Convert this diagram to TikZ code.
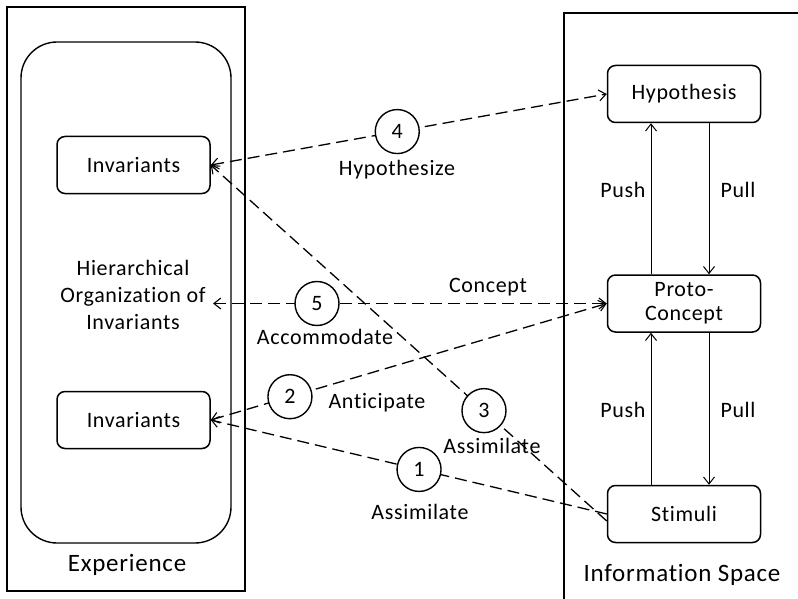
\documentclass[tikz,border=0pt]{standalone}
\usepackage{fontspec}
\setmainfont{Carlito}[Ligatures=NoCommon,LetterSpace=3]
\usetikzlibrary{arrows.meta,calc}
\begin{document}
\begin{tikzpicture}[x=1pt,y=-1pt,
  font=\fontsize{22}{26}\selectfont,
  box/.style={draw,line width=1.5pt,rounded corners=8pt,minimum width=153pt,minimum height=57pt,align=center,inner sep=0pt},
  num/.style={draw,circle,line width=1.4pt,fill=white,minimum size=44pt,inner sep=0pt},
  dline/.style={line width=1.3pt,dash pattern=on 12pt off 6pt},
  tip/.style={arrows={-Straight Barb[length=7pt,width=11pt,line width=1.1pt]}},
  both/.style={arrows={Straight Barb[length=7pt,width=11pt,line width=1.1pt]-Straight Barb[length=7pt,width=11pt,line width=1.1pt]}},
  flow/.style={line width=1pt,-{Straight Barb[length=7pt,width=11pt,line width=1pt]}},
  lbl/.style={inner sep=0pt},
  big/.style={inner sep=0pt,font=\fontsize{25}{30}\selectfont}]
\useasboundingbox (0,0) rectangle (798,599);
\clip (0,0) rectangle (798,599);
\fill[white] (0,0) rectangle (798,599);

% frames: Experience (left) and Information Space (right, running off the page)
\draw[line width=1.3pt] (7,7) rectangle (245,591);
\draw[line width=2.6pt] (7,7) -- (245,7);
\draw[line width=1.3pt] (564,13) rectangle (820,640);
\draw[line width=2.6pt] (564,13) -- (820,13);
\draw[line width=1.4pt,rounded corners=36pt] (21,42) rectangle (231,543);

% boxes
\node[box] (inv1) at (133.5,165) {Invariants};
\node[box] (inv2) at (133.5,420) {Invariants};
\node[box] (hyp) at (684,94) {Hypothesis};
\node[box] (proto) at (684,303.5) {Proto-\\[-2pt]Concept};
\node[box] (stim) at (684,514) {Stimuli};

\node[lbl,align=center] (hier) at (133,295) {Hierarchical\\[1pt]Organization of\\[1pt]Invariants};
\coordinate (hierend) at (213,303.5);
\coordinate (stimtop) at ([yshift=-7pt]stim.west);

% push / pull
\draw[flow] ([xshift=-33pt]proto.north) -- ([xshift=-33pt]hyp.south);
\draw[flow] ([xshift=25pt]hyp.south) -- ([xshift=25pt]proto.north);
\draw[flow] ([xshift=-33pt]stim.north) -- ([xshift=-33pt]proto.south);
\draw[flow] ([xshift=25pt]proto.south) -- ([xshift=25pt]stim.north);
\node[lbl] (push1) at (623,190) {Push};
\node[lbl] (pull1) at (738,190) {Pull};
\node[lbl] (push2) at (623,410) {Push};
\node[lbl] (pull2) at (738,410) {Pull};

% dashed relations
\draw[dline,both] (inv1.east) -- (hyp.west);
\draw[dline,both] (hierend) -- (proto.west);
\draw[dline,both] (inv2.east) -- (proto.west);
\draw[dline,tip] (stim.west) -- (inv2.east);
\draw[dline,tip] (stimtop) -- (inv1.east);

% numbered steps
\node[num] (c4) at ($(inv1.east)!0.471!(hyp.west)$) {4};
\node[num] (c5) at (317,303.5) {5};
\node[num] (c2) at ($(inv2.east)!0.2!(proto.west)$) {2};
\node[num] (c1) at ($(inv2.east)!0.526!(stim.west)$) {1};
\node[num] (c3) at ($(inv1.east)!0.69!(stimtop)$) {3};

\node[lbl] (lhyp) at (397,170) {Hypothesize};
\node[lbl] (lcon) at (488,287) {Concept};
\node[lbl] (lacc) at (325,337) {Accommodate};
\node[lbl] (lant) at (377,403) {Anticipate};
\node[lbl] (las3) at (492,446) {Assimilate};
\node[lbl] (las1) at (420,512) {Assimilate};

\node[big] (exp) at (127,565) {Experience};
\node[big] (info) at (682,575) {Information Space};
\end{tikzpicture}
\end{document}
